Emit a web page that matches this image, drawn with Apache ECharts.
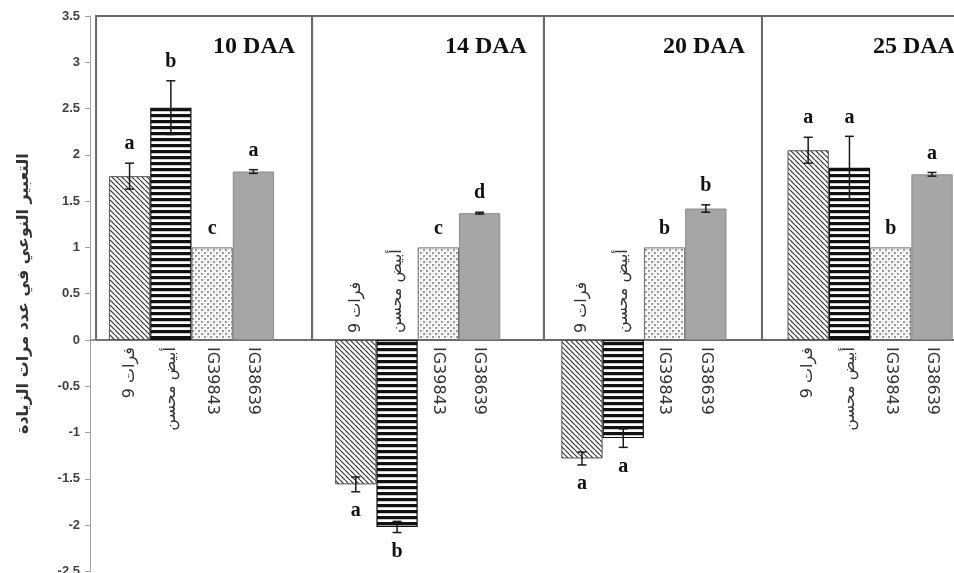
<!DOCTYPE html>
<html>
<head>
<meta charset="utf-8">
<script src="https://cdn.jsdelivr.net/npm/echarts@6/dist/echarts.min.js"></script>
<style>
  html, body { margin: 0; padding: 0; background: #ffffff; }
  #chart { width: 954px; height: 573px; }
</style>
</head>
<body>
<div id="chart"></div>
<script>
// Stages after anthesis and the four genotypes
const categories = ['10 DAA', '14 DAA', '20 DAA', '25 DAA'];
const varieties = ['فرات 9', 'أبيض محسن', 'IG39843', 'IG38639'];

// Relative expression (fold change), one value per stage
const furat9 = [1.77, -1.56, -1.28, 2.05];
const abyadMuhassan = [2.51, -2.02, -1.06, 1.86];
const ig39843 = [1, 1, 1, 1];
const ig38639 = [1.82, 1.37, 1.42, 1.79];

// Standard errors
const furat9Err = [0.14, 0.08, 0.07, 0.14];
const abyadMuhassanErr = [0.29, 0.06, 0.10, 0.34];
const ig39843Err = [0, 0, 0, 0];
const ig38639Err = [0.02, 0.01, 0.04, 0.02];

// Significance letters
const furat9Sig = ['a', 'a', 'a', 'a'];
const abyadMuhassanSig = ['b', 'b', 'a', 'a'];
const ig39843Sig = ['c', 'c', 'b', 'b'];
const ig38639Sig = ['a', 'd', 'b', 'a'];

// Value axis range
const yMin = -2.5, yMax = 3.5, yStep = 0.5;
const yTitle = 'التعبير النوعي في عدد مرات الزيادة';

// ---- layout (pixels / band units) ----
const GRID_LEFT = 78.4, GRID_WIDTH = 904.8, GRID_TOP = 16, GRID_HEIGHT = 555.4;
const Y_AXIS_X = 90;                       // the value axis is drawn slightly inside the bar grid
const CAT_GAP = 0.27;                      // share of a band left empty
const panelEdges = [-0.422, 0.533, 1.558, 2.522, 3.45]; // panel borders in band units
const arabicSeries = [true, true, false, false];        // vertical Arabic names read upwards

const seriesValues = [furat9, abyadMuhassan, ig39843, ig38639];
const seriesErrors = [furat9Err, abyadMuhassanErr, ig39843Err, ig38639Err];
const seriesSig = [furat9Sig, abyadMuhassanSig, ig39843Sig, ig38639Sig];

function makePattern(w, h, draw) {
  const c = document.createElement('canvas');
  c.width = w; c.height = h;
  const g = c.getContext('2d');
  g.fillStyle = '#ffffff';
  g.fillRect(0, 0, w, h);
  draw(g, w, h);
  return { image: c, repeat: 'repeat' };
}

// fine downward diagonal hatch
const hatch = makePattern(5, 5, (g) => {
  g.strokeStyle = '#333333';
  g.lineWidth = 1.2;
  for (const k of [-5, 0, 5]) {
    g.beginPath(); g.moveTo(k, 0); g.lineTo(k + 5, 5); g.stroke();
  }
});
// horizontal black stripes
const stripes = makePattern(4, 6, (g) => {
  g.fillStyle = '#111111';
  g.fillRect(0, 0, 4, 3);
  g.fillStyle = '#c8c8c8';
  g.fillRect(0, 3, 4, 1);
});
// light dotted fill
const dots = makePattern(6, 6, (g) => {
  g.fillStyle = '#9a9a9a';
  g.fillRect(0, 0, 2, 2);
  g.fillRect(3, 3, 2, 2);
  g.fillStyle = '#d0d0d0';
  g.fillRect(3, 0, 1, 1);
  g.fillRect(0, 3, 1, 1);
});

const barStyles = [
  { color: hatch, borderColor: '#555555', borderWidth: 1 },
  { color: stripes, borderColor: '#111111', borderWidth: 1.2 },
  { color: dots, borderColor: '#6a6a6a', borderWidth: 1 },
  { color: '#a6a6a6', borderColor: '#8a8a8a', borderWidth: 1 }
];

function nameLabel(v, s) {
  const up = arabicSeries[s];
  // names sit just beyond the zero line, on the side away from the bar
  if (v >= 0) return { position: 'bottom', rotate: up ? 90 : -90, align: up ? 'right' : 'left' };
  return { position: 'top', rotate: up ? 90 : -90, align: up ? 'left' : 'right' };
}

const barSeries = seriesValues.map((vals, s) => ({
  type: 'bar',
  name: varieties[s],
  xAxisIndex: 0,
  yAxisIndex: 0,
  barGap: '0%',
  barCategoryGap: (CAT_GAP * 100) + '%',
  z: 3,
  silent: true,
  itemStyle: barStyles[s],
  label: {
    show: true,
    formatter: '{a}',
    distance: 7,
    verticalAlign: 'middle',
    color: '#333333',
    fontSize: 16,
    fontFamily: 'DejaVu Sans'
  },
  data: vals.map(v => ({ value: v, label: nameLabel(v, s) }))
}));

// error bars with significance letters
const errData = [];
const errLetters = [];
seriesValues.forEach((vals, s) => {
  vals.forEach((v, c) => {
    errData.push([c, v, seriesErrors[s][c], s]);
    errLetters.push(seriesSig[s][c]);
  });
});

const errorSeries = {
  type: 'custom',
  xAxisIndex: 0,
  yAxisIndex: 0,
  z: 5,
  silent: true,
  clip: false,
  encode: { x: 0, y: 1 },
  data: errData,
  renderItem(params, api) {
    const c = api.value(0), v = api.value(1), e = api.value(2), s = api.value(3);
    const band = api.size([1, 0])[0];
    const groupW = band * (1 - CAT_GAP);
    const bw = groupW / 4;
    const center = api.coord([c, v]);
    const x = center[0] - groupW / 2 + bw * (s + 0.5);
    const yHi = api.coord([c, v + e])[1];
    const yLo = api.coord([c, v - e])[1];
    const children = [];
    if (e > 0) {
      const cap = 4.5;
      const st = { stroke: '#1a1a1a', lineWidth: 1.5 };
      children.push({ type: 'line', shape: { x1: x, y1: yHi, x2: x, y2: yLo }, style: st });
      children.push({ type: 'line', shape: { x1: x - cap, y1: yHi, x2: x + cap, y2: yHi }, style: st });
      children.push({ type: 'line', shape: { x1: x - cap, y1: yLo, x2: x + cap, y2: yLo }, style: st });
    }
    const ty = v >= 0 ? yHi - 19 : yLo + 19;
    children.push({
      type: 'text',
      style: {
        x: x, y: ty,
        text: errLetters[params.dataIndex],
        fill: '#111111',
        font: 'bold 20px "Liberation Serif"',
        align: 'center',
        verticalAlign: 'middle'
      }
    });
    return { type: 'group', children };
  }
};

// panel frames, stage titles and the zero line
const frameData = categories.map((name, i) => [panelEdges[i], panelEdges[i + 1], i]);
const frameSeries = {
  type: 'custom',
  xAxisIndex: 1,
  yAxisIndex: 0,
  z: 1,
  silent: true,
  clip: false,
  encode: { x: [0, 1] },
  data: frameData,
  renderItem(params, api) {
    const x0 = api.coord([api.value(0), yMax]);
    const x1 = api.coord([api.value(1), 0]);
    const idx = api.value(2);
    const children = [
      {
        type: 'rect',
        shape: { x: x0[0], y: x0[1], width: x1[0] - x0[0], height: x1[1] - x0[1] },
        style: { fill: null, stroke: '#6a6a6a', lineWidth: 2 }
      },
      {
        type: 'text',
        style: {
          x: x1[0] - 17, y: x0[1] + 31,
          text: categories[idx],
          fill: '#111111',
          font: 'bold 24px "Liberation Serif"',
          align: 'right',
          verticalAlign: 'middle'
        }
      }
    ];
    if (idx === 0) {
      const cs = params.coordSys;
      children.push({
        type: 'line',
        shape: { x1: Y_AXIS_X, y1: x1[1], x2: cs.x + cs.width, y2: x1[1] },
        style: { stroke: '#7a7a7a', lineWidth: 1.5 }
      });
    }
    return { type: 'group', children };
  }
};

const chart = echarts.init(document.getElementById('chart'), null, { renderer: 'canvas' });
chart.setOption({
  animation: false,
  backgroundColor: '#ffffff',
  grid: [
    { left: GRID_LEFT, top: GRID_TOP, width: GRID_WIDTH, height: GRID_HEIGHT, containLabel: false, outerBoundsMode: 'none' },
    { left: Y_AXIS_X, top: GRID_TOP, width: 100, height: GRID_HEIGHT, containLabel: false, outerBoundsMode: 'none' }
  ],
  xAxis: [
    {
      type: 'category',
      gridIndex: 0,
      data: categories,
      axisLine: { show: false },
      axisTick: { show: false },
      axisLabel: { show: false },
      splitLine: { show: false }
    },
    {
      type: 'value',
      gridIndex: 0,
      min: -0.5,
      max: categories.length - 0.5,
      show: false
    },
    {
      type: 'value',
      gridIndex: 1,
      min: 0,
      max: 1,
      show: false
    }
  ],
  yAxis: [
    {
      type: 'value',
      gridIndex: 0,
      min: yMin,
      max: yMax,
      interval: yStep,
      show: false
    },
    {
      type: 'value',
      gridIndex: 1,
      min: yMin,
      max: yMax,
      interval: yStep,
      axisLine: { show: true, lineStyle: { color: '#a0a0a0', width: 1 } },
      axisTick: { show: true, inside: false, length: 5, lineStyle: { color: '#a0a0a0' } },
      splitLine: { show: false },
      axisLabel: {
        margin: 10,
        color: '#404040',
        fontSize: 13,
        fontWeight: 'bold',
        fontFamily: 'Liberation Sans'
      },
      name: yTitle,
      nameLocation: 'middle',
      nameGap: 58,
      nameTextStyle: {
        color: '#333333',
        fontSize: 16,
        fontWeight: 'bold',
        fontFamily: 'DejaVu Sans'
      }
    }
  ],
  series: [frameSeries, ...barSeries, errorSeries]
});
</script>
</body>
</html>
